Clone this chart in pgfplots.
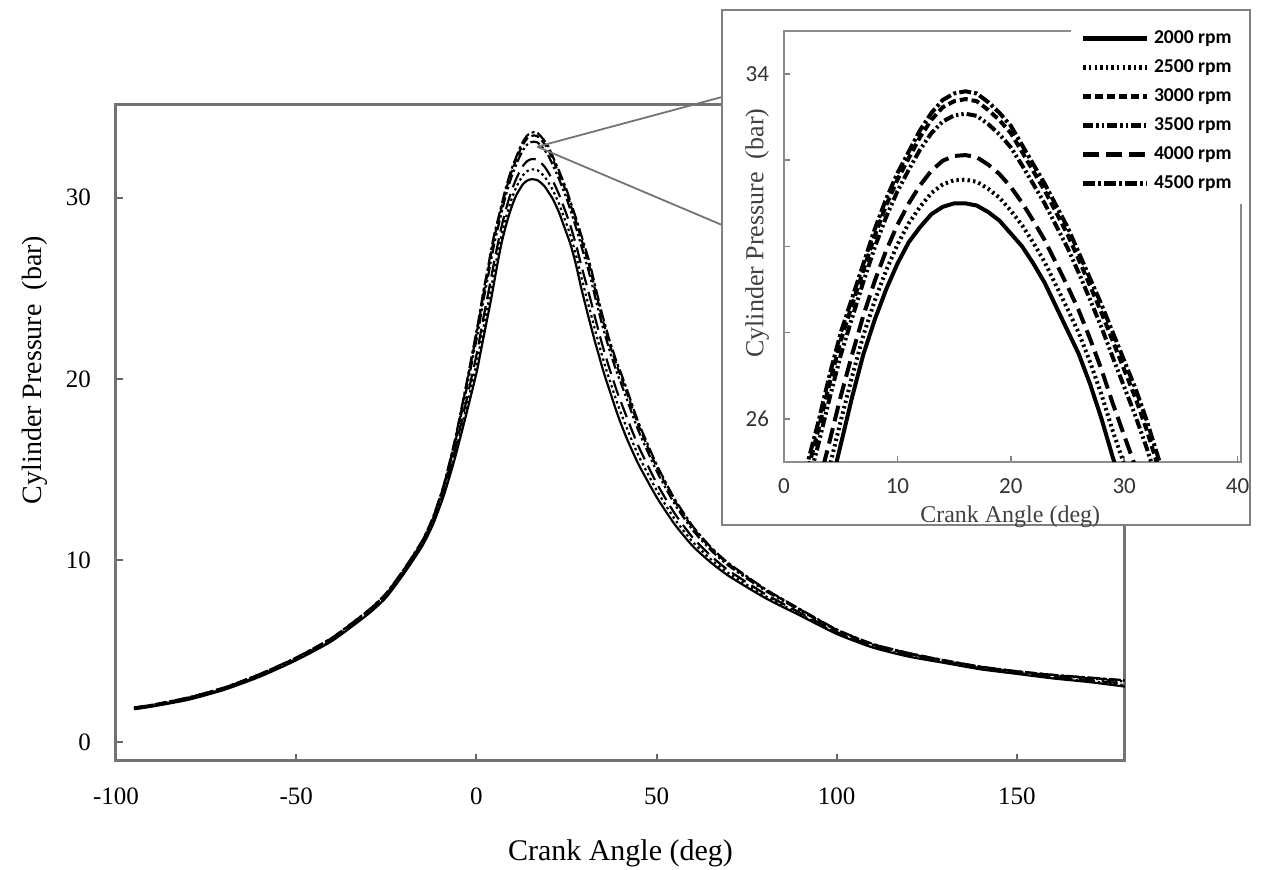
\documentclass[border=0pt]{standalone}
\usepackage{pgfplots}
\pgfplotsset{compat=1.18}
\usepackage{pgfplotstable}
\usepackage{fontspec}
\setmainfont{Liberation Serif}
\newfontfamily\carlito{Carlito}

\pgfplotstableread{
x    a     b     c     d     e     f
-95  1.80  1.82  1.89  1.88  1.84  1.90
-90  1.95  1.97  2.04  2.03  1.99  2.05
-80  2.32  2.35  2.44  2.42  2.38  2.45
-70  2.87  2.90  2.99  2.97  2.93  3.00
-60  3.60  3.63  3.74  3.72  3.66  3.75
-50  4.50  4.53  4.64  4.62  4.56  4.65
-40  5.57  5.61  5.74  5.71  5.65  5.75
-30  7.05  7.09  7.24  7.21  7.14  7.25
-25  7.97  8.02  8.18  8.15  8.07  8.20
-20  9.30  9.35  9.53  9.50  9.41  9.55
-15  10.80 10.86 11.08 11.04 10.93 11.10
-12  12.00 12.08 12.37 12.32 12.17 12.40
-9   13.60 13.73 14.16 14.08 13.86 14.20
-6   15.60 15.81 16.53 16.40 16.03 16.60
-3   17.90 18.24 19.39 19.18 18.59 19.50
0    20.30 20.78 22.44 22.14 21.29 22.60
1    21.30 21.80 23.53 23.22 22.33 23.70
2    22.30 22.85 24.72 24.38 23.42 24.90
3    23.30 23.85 25.72 25.38 24.42 25.90
4    24.30 24.87 26.81 26.46 25.46 27.00
5    25.40 25.95 27.82 27.48 26.52 28.00
6    26.50 26.98 28.64 28.34 27.49 28.80
7    27.50 27.94 29.45 29.18 28.40 29.60
8    28.30 28.74 30.25 29.98 29.20 30.40
9    29.00 29.44 30.95 30.68 29.90 31.10
10   29.60 30.04 31.55 31.28 30.50 31.70
11   30.10 30.54 32.05 31.78 31.00 32.20
12   30.45 30.92 32.54 32.25 31.42 32.70
13   30.75 31.24 32.94 32.63 31.76 33.10
14   30.92 31.44 33.23 32.90 31.99 33.40
15   31.00 31.54 33.37 33.04 32.10 33.55
16   31.00 31.55 33.42 33.08 32.12 33.60
17   30.95 31.50 33.37 33.03 32.07 33.55
18   30.80 31.34 33.17 32.84 31.90 33.35
19   30.60 31.13 32.93 32.60 31.68 33.10
20   30.30 30.83 32.63 32.30 31.38 32.80
21   30.00 30.49 32.19 31.88 31.01 32.35
22   29.60 30.08 31.74 31.44 30.59 31.90
23   29.15 29.63 31.29 30.99 30.14 31.45
24   28.60 29.09 30.79 30.48 29.61 30.95
25   28.05 28.55 30.28 29.97 29.08 30.45
26   27.50 27.99 29.69 29.38 28.51 29.85
27   26.80 27.31 29.08 28.76 27.85 29.25
28   26.00 26.56 28.46 28.12 27.14 28.65
29   25.10 25.71 27.80 27.42 26.35 28.00
30   24.30 24.94 27.14 26.74 25.61 27.35
31   23.50 24.17 26.48 26.06 24.88 26.70
32   22.75 23.42 25.73 25.31 24.13 25.95
33   22.00 22.65 24.88 24.48 23.33 25.10
34   21.30 21.93 24.09 23.70 22.59 24.30
35   20.60 21.21 23.30 22.92 21.85 23.50
36   19.95 20.55 22.60 22.23 21.18 22.80
37   19.35 19.93 21.91 21.55 20.53 22.10
38   18.75 19.33 21.31 20.95 19.93 21.50
39   18.15 18.73 20.71 20.35 19.33 20.90
40   17.60 18.19 20.20 19.84 18.80 20.40
42   16.60 17.17 19.11 18.76 17.76 19.30
45   15.30 15.78 17.44 17.14 16.29 17.60
50   13.50 13.88 15.17 14.94 14.27 15.30
55   12.00 12.29 13.30 13.12 12.60 13.40
60   10.80 11.03 11.82 11.68 11.27 11.90
65   9.90  10.08 10.69 10.58 10.27 10.75
70   9.15  9.30  9.80  9.71  9.45  9.85
80   7.95  8.06  8.42  8.35  8.17  8.45
90   6.95  7.02  7.28  7.23  7.10  7.30
100  5.95  6.00  6.18  6.15  6.06  6.20
110  5.20  5.24  5.39  5.36  5.29  5.40
120  4.70  4.74  4.89  4.86  4.79  4.90
130  4.35  4.38  4.49  4.47  4.41  4.50
140  4.00  4.03  4.14  4.12  4.06  4.15
150  3.75  3.78  3.89  3.87  3.81  3.90
160  3.50  3.54  3.69  3.66  3.59  3.70
170  3.30  3.35  3.53  3.50  3.41  3.55
180  3.05  3.12  3.38  3.33  3.20  3.40
}\pdata

\pgfplotsset{
  sA/.style={black, solid},
  sB/.style={black, dash pattern=on 1.2pt off 1.6pt},
  sC/.style={black, dash pattern=on 4pt off 2pt},
  sD/.style={black, dash pattern=on 5pt off 1.5pt on 1.2pt off 1.5pt on 1.2pt off 1.5pt},
  sE/.style={black, dash pattern=on 8pt off 3.5pt},
  sF/.style={black, dash pattern=on 6pt off 1.5pt on 1.5pt off 1.5pt},
}

\begin{document}
\begin{tikzpicture}
\begin{axis}[
  at={(0pt,0pt)}, anchor=south west,
  scale only axis, width=504.5pt, height=328pt,
  xmin=-100, xmax=180, ymin=-1.05, ymax=35.1,
  xtick={-100,-50,0,50,100,150}, xticklabels={-100,-50,0,50,100,150},
  ytick={0,10,20,30}, yticklabels={0,10,20,30},
  tick pos=left, tick align=inside, major tick length=3.5pt,
  axis line style={draw=black!55, line width=1.5pt},
  tick style={black!60, line width=1pt},
  tick label style={font=\fontsize{12.5}{14}\selectfont},
  xticklabel style={yshift=-10pt},
  yticklabel style={xshift=-9pt},
  xlabel={Crank Angle (deg)},
  ylabel={Cylinder Pressure\ \ (bar)},
  xlabel style={at={(axis description cs:0.5,-0.14)}, anchor=center, font=\fontsize{15}{18}\selectfont},
  ylabel style={at={(axis description cs:-0.0803,0.596)}, anchor=center, font=\fontsize{14}{17}\selectfont},
  every axis plot/.append style={line width=1.1pt, smooth, tension=0.35},
]
\addplot[sA] table[x=x, y=a] {\pdata};
\addplot[sB] table[x=x, y=b] {\pdata};
\addplot[sC] table[x=x, y=c] {\pdata};
\addplot[sD] table[x=x, y=d] {\pdata};
\addplot[sE] table[x=x, y=e] {\pdata};
\addplot[sF] table[x=x, y=f] {\pdata};
\coordinate (pk) at (axis cs:16.9,32.8);
\end{axis}

\draw[black!55, line width=0.9pt] (pk) -- (303pt,332pt);
\draw[black!55, line width=0.9pt] (pk) -- (303pt,268pt);
\filldraw[fill=white, draw=black!50, line width=1.2pt] (303pt,118pt) rectangle (567pt,375.5pt);

\begin{axis}[
  at={(334pt,149.5pt)}, anchor=south west,
  scale only axis, width=228.5pt, height=215.5pt,
  xmin=0, xmax=40.3, ymin=25, ymax=35,
  xtick={0,10,20,30,40}, xticklabels={0,10,20,30,40},
  ytick={26,28,30,32,34}, yticklabels={26,,,,34},
  tick pos=left, tick align=inside, major tick length=3pt,
  axis line style={draw=black!45, line width=1pt},
  tick style={black!50, line width=0.8pt},
  tick label style={font=\carlito\fontsize{11.5}{13}\selectfont, text=black!80},
  xticklabel style={yshift=-5pt},
  yticklabel style={xshift=-4pt},
  xlabel={Crank Angle (deg)},
  ylabel={Cylinder Pressure\ \ (bar)},
  xlabel style={at={(axis description cs:0.495,-0.128)}, anchor=center, font=\fontsize{12}{14}\selectfont, text=black!75},
  ylabel style={at={(axis description cs:-0.059,0.531)}, anchor=center, font=\fontsize{13}{15}\selectfont, text=black!75},
  every axis plot/.append style={line width=2pt},
  legend image code/.code={\draw[#1, line width=2.6pt] (0pt,0pt) -- (32pt,0pt);},
  legend cell align=left,
  legend style={draw=none, fill=white, at={(1.011,1.03)}, anchor=north east,
    font=\carlito\bfseries\fontsize{9.8}{11}\selectfont,
    inner xsep=5pt, inner ysep=4pt, row sep=2.6pt},
]
\addplot[sA] table[x=x, y=a] {\pdata};
\addlegendentry{2000 rpm}
\addplot[sB] table[x=x, y=b] {\pdata};
\addlegendentry{2500 rpm}
\addplot[sC] table[x=x, y=c] {\pdata};
\addlegendentry{3000 rpm}
\addplot[sD] table[x=x, y=d] {\pdata};
\addlegendentry{3500 rpm}
\addplot[sE] table[x=x, y=e] {\pdata};
\addlegendentry{4000 rpm}
\addplot[sF] table[x=x, y=f] {\pdata};
\addlegendentry{4500 rpm}
\end{axis}

\pgfresetboundingbox
\useasboundingbox (-58pt,-54.5pt) rectangle (574.5pt,380.5pt);
\end{tikzpicture}
\end{document}
